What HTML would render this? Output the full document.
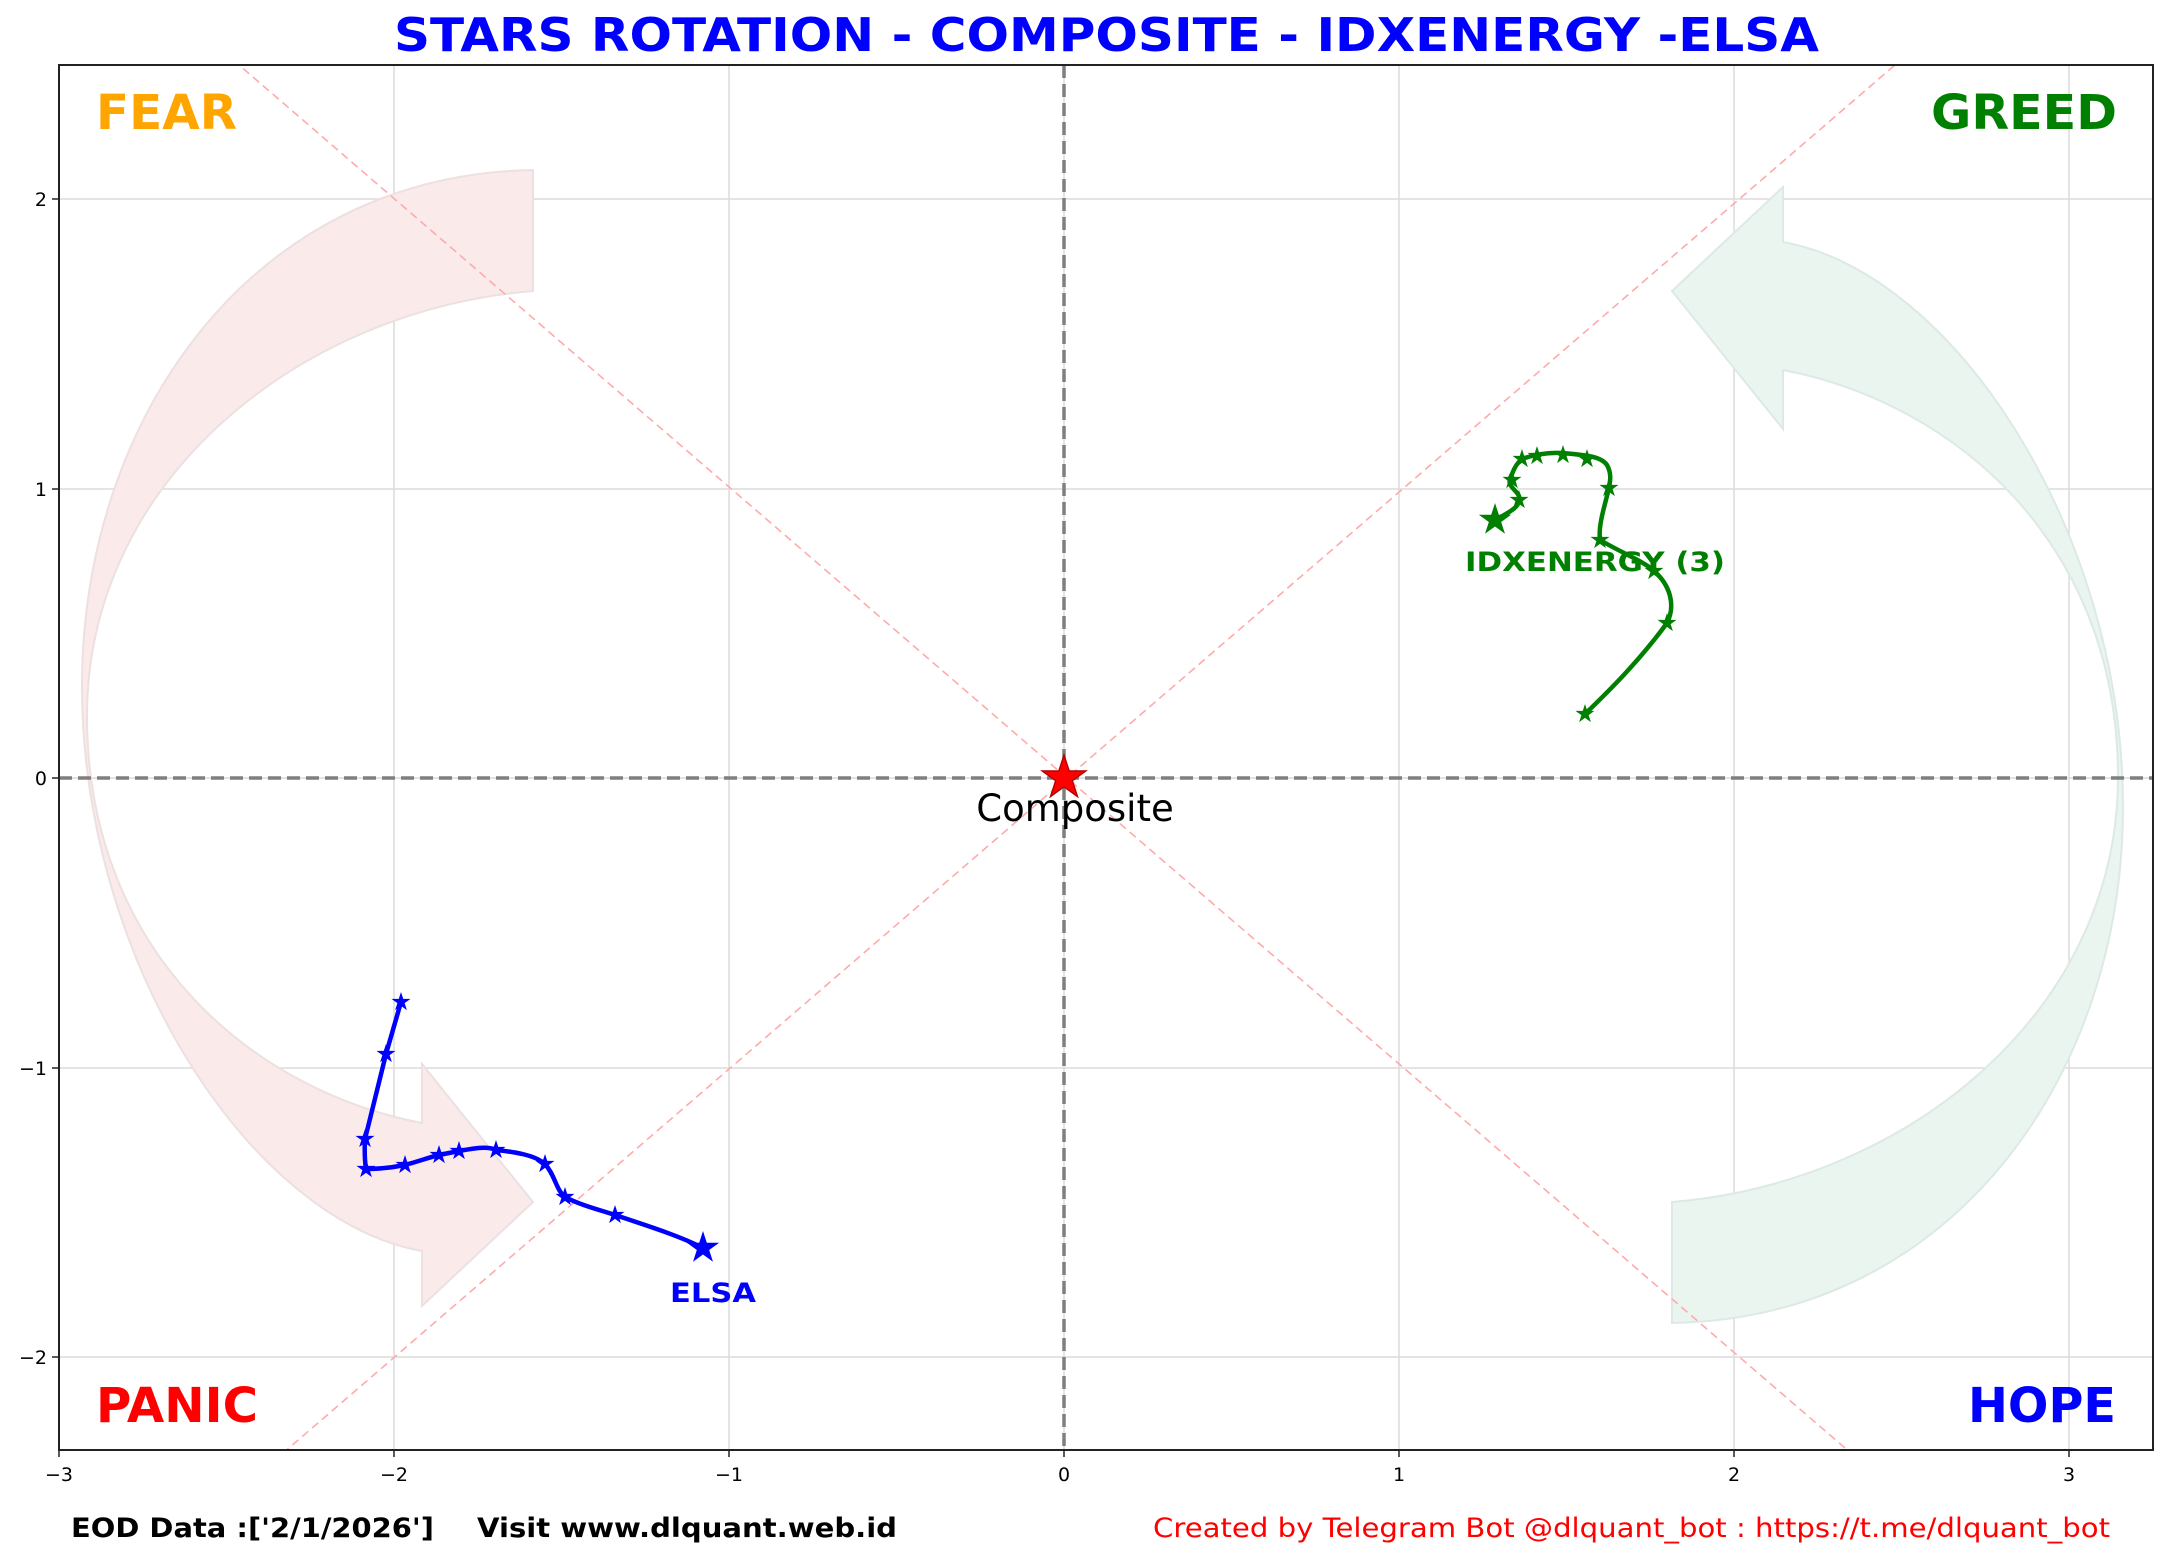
<!DOCTYPE html>
<html><head><meta charset="utf-8"><style>
html,body{margin:0;padding:0;background:#fff;overflow:hidden;width:2167px;height:1560px;position:relative}
svg{display:block;position:absolute;left:0;top:0}
text{font-family:"DejaVu Sans","Liberation Sans",sans-serif}
</style></head><body>
<svg width="2167" height="1560" viewBox="0 0 2167 1560" xmlns="http://www.w3.org/2000/svg">
<defs>
<path id="st" d="M0,-1 L0.2245,-0.309 L0.951,-0.309 L0.363,0.118 L0.588,0.809 L0,0.382 L-0.588,0.809 L-0.363,0.118 L-0.951,-0.309 L-0.2245,-0.309 Z"/>
<path id="arr" d="M533 170 C250 175 82 420 82 686 C82 960 250 1220 422 1251 L422 1306 L533 1202 L422 1064 L422 1123 C250 1090 87 950 87 716 C87 480 300 310 533 291 Z"/>
<clipPath id="ax"><rect x="59" y="65" width="2094" height="1385"/></clipPath>
</defs>
<rect width="2167" height="1560" fill="#fff"/>
<g clip-path="url(#ax)">
<g stroke="#dcdcdc" stroke-width="1.5">
<line x1="59" y1="65" x2="59" y2="1450"/><line x1="394" y1="65" x2="394" y2="1450"/><line x1="729" y1="65" x2="729" y2="1450"/>
<line x1="1064" y1="65" x2="1064" y2="1450"/><line x1="1399" y1="65" x2="1399" y2="1450"/><line x1="1734" y1="65" x2="1734" y2="1450"/><line x1="2069" y1="65" x2="2069" y2="1450"/>
<line x1="59" y1="199" x2="2153" y2="199"/><line x1="59" y1="489" x2="2153" y2="489"/><line x1="59" y1="778" x2="2153" y2="778"/><line x1="59" y1="1068" x2="2153" y2="1068"/><line x1="59" y1="1357" x2="2153" y2="1357"/>
</g>
<use href="#arr" fill="#fbeaea" stroke="#ece0e0" stroke-width="2"/>
<use href="#arr" transform="translate(2205,1493) rotate(180)" fill="#e9f5ee" stroke="#dde9e6" stroke-width="2"/>
<g stroke="#ffaaaa" stroke-width="1.6" stroke-dasharray="8,5" fill="none">
<line x1="-13" y1="-152" x2="2500" y2="2012"/>
<line x1="-13" y1="1708" x2="2500" y2="-456"/>
</g>
<g stroke="#7f7f7f" stroke-width="3.5" stroke-dasharray="13,6">
<line x1="1064" y1="65" x2="1064" y2="1450"/>
<line x1="59" y1="778" x2="2153" y2="778"/>
</g>
</g>
<rect x="59" y="65" width="2094" height="1385" fill="none" stroke="#222" stroke-width="2"/>
<g stroke="#222" stroke-width="1.5">
<line x1="59" y1="1450" x2="59" y2="1457"/><line x1="394" y1="1450" x2="394" y2="1457"/><line x1="729" y1="1450" x2="729" y2="1457"/><line x1="1064" y1="1450" x2="1064" y2="1457"/><line x1="1399" y1="1450" x2="1399" y2="1457"/><line x1="1734" y1="1450" x2="1734" y2="1457"/><line x1="2069" y1="1450" x2="2069" y2="1457"/>
<line x1="52" y1="199" x2="59" y2="199"/><line x1="52" y1="489" x2="59" y2="489"/><line x1="52" y1="778" x2="59" y2="778"/><line x1="52" y1="1068" x2="59" y2="1068"/><line x1="52" y1="1357" x2="59" y2="1357"/>
</g>
<g font-size="19" fill="#000" text-anchor="middle">
<text x="59" y="1481">−3</text><text x="394" y="1481">−2</text><text x="729" y="1481">−1</text><text x="1064" y="1481">0</text><text x="1399" y="1481">1</text><text x="1734" y="1481">2</text><text x="2069" y="1481">3</text>
</g>
<g font-size="19" fill="#000" text-anchor="end">
<text x="47" y="206">2</text><text x="47" y="496">1</text><text x="47" y="785">0</text><text x="47" y="1075">−1</text><text x="47" y="1364">−2</text>
</g>
<g font-weight="bold" font-size="48">
<text x="96" y="129" fill="#ffa500" textLength="141" lengthAdjust="spacingAndGlyphs">FEAR</text>
<text x="1931" y="129" fill="#008000" textLength="186" lengthAdjust="spacingAndGlyphs">GREED</text>
<text x="96" y="1422" fill="#ff0000" textLength="162" lengthAdjust="spacingAndGlyphs">PANIC</text>
<text x="1968" y="1422" fill="#0000ff" textLength="148" lengthAdjust="spacingAndGlyphs">HOPE</text>
</g>
<text x="394" y="51" font-weight="bold" font-size="46" fill="#0000ff" textLength="1425" lengthAdjust="spacingAndGlyphs">STARS ROTATION - COMPOSITE - IDXENERGY -ELSA</text>
<path d="M1495 520 C1510 512 1522 506 1519 496 C1515 488 1505 486 1512 474 C1515 466 1518 462 1522 459 C1530 456 1545 452 1563 453 C1580 455 1600 455 1607 465 C1612 474 1610 482 1609 488 C1605 505 1598 525 1600 540 C1620 552 1645 562 1654 571 C1670 585 1676 605 1667 623 C1640 660 1610 690 1585 714" fill="none" stroke="#008000" stroke-width="4.5" stroke-linejoin="round" stroke-linecap="round"/>
<g fill="#008000">
<use href="#st" transform="translate(1495,520) scale(17)"/>
<use href="#st" transform="translate(1519,500) scale(10)"/>
<use href="#st" transform="translate(1512,480) scale(10)"/>
<use href="#st" transform="translate(1522,459) scale(10)"/>
<use href="#st" transform="translate(1537,456) scale(10)"/>
<use href="#st" transform="translate(1563,455) scale(10)"/>
<use href="#st" transform="translate(1587,459) scale(10)"/>
<use href="#st" transform="translate(1609,488) scale(10)"/>
<use href="#st" transform="translate(1600,540) scale(10)"/>
<use href="#st" transform="translate(1654,571) scale(10)"/>
<use href="#st" transform="translate(1667,623) scale(10)"/>
<use href="#st" transform="translate(1585,714) scale(10)"/>
</g>
<text x="1465" y="571" font-weight="bold" font-size="27" fill="#008000" textLength="260" lengthAdjust="spacingAndGlyphs">IDXENERGY (3)</text>
<path d="M401 1002 L386 1054 L365 1139 C364 1160 366 1168 366 1169 C380 1169 395 1167 405 1165 C420 1161 430 1157 439 1155 L459 1151 C475 1148 488 1146 496 1150 C515 1152 535 1155 545 1164 C555 1175 556 1190 565 1197 C580 1205 600 1210 615 1215 C645 1225 680 1236 703 1248" fill="none" stroke="#0000ff" stroke-width="4.5" stroke-linejoin="round" stroke-linecap="round"/>
<g fill="#0000ff">
<use href="#st" transform="translate(401,1002) scale(10)"/>
<use href="#st" transform="translate(386,1054) scale(10)"/>
<use href="#st" transform="translate(365,1139) scale(10)"/>
<use href="#st" transform="translate(366,1169) scale(10)"/>
<use href="#st" transform="translate(405,1165) scale(10)"/>
<use href="#st" transform="translate(439,1155) scale(10)"/>
<use href="#st" transform="translate(459,1151) scale(10)"/>
<use href="#st" transform="translate(496,1150) scale(10)"/>
<use href="#st" transform="translate(545,1164) scale(10)"/>
<use href="#st" transform="translate(565,1197) scale(10)"/>
<use href="#st" transform="translate(615,1215) scale(10)"/>
<use href="#st" transform="translate(703,1248) scale(17)"/>
</g>
<text x="713" y="1302" font-weight="bold" font-size="27" fill="#0000ff" text-anchor="middle" textLength="86" lengthAdjust="spacingAndGlyphs">ELSA</text>
<use href="#st" transform="translate(1064,778) scale(23)" fill="#ff0000" stroke="#b00000" stroke-width="0.06"/>
<text x="1075" y="821" font-size="37" fill="#000" text-anchor="middle">Composite</text>
<text x="71" y="1537" font-weight="bold" font-size="27" fill="#000" textLength="363" lengthAdjust="spacingAndGlyphs">EOD Data :['2/1/2026']</text>
<text x="477" y="1537" font-weight="bold" font-size="27" fill="#000" textLength="420" lengthAdjust="spacingAndGlyphs">Visit www.dlquant.web.id</text>
<text x="1153" y="1537" font-size="27" fill="#ff0000" textLength="957" lengthAdjust="spacingAndGlyphs">Created by Telegram Bot @dlquant_bot : https://t.me/dlquant_bot</text>
</svg>
</body></html>
